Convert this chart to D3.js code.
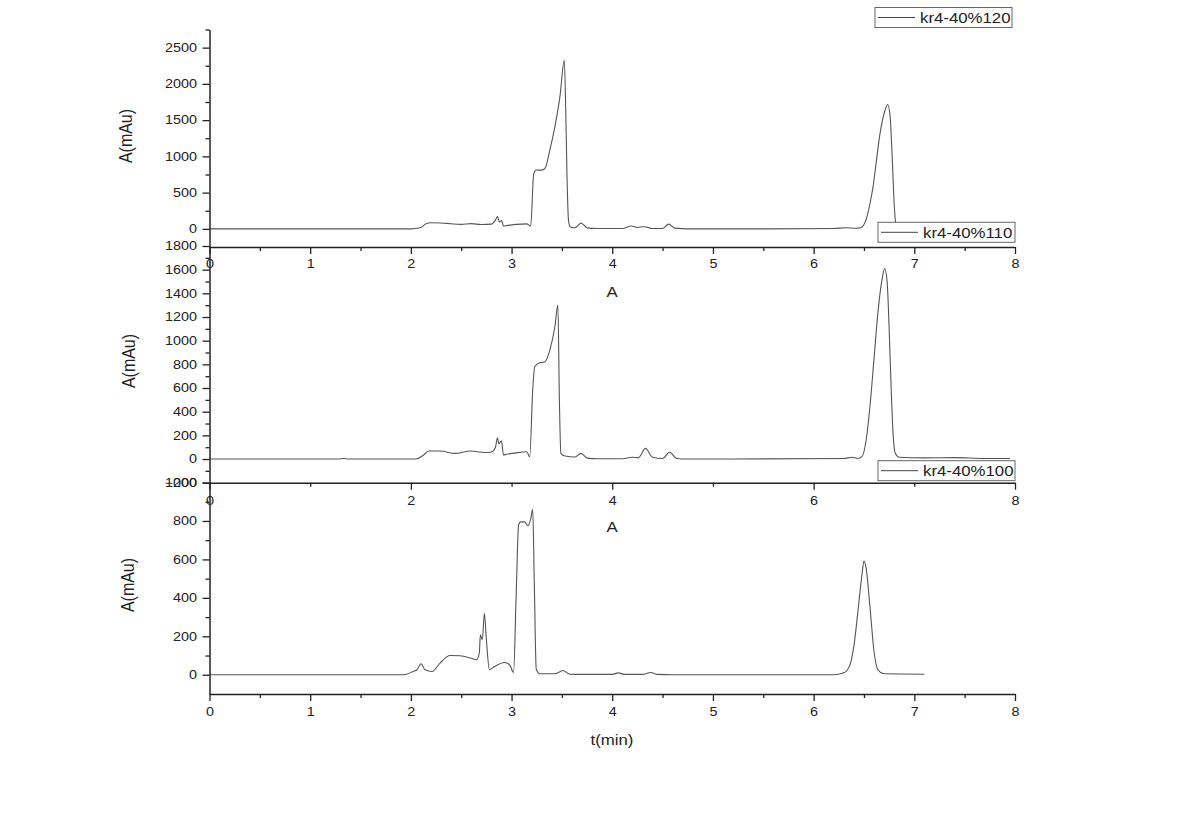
<!DOCTYPE html>
<html lang="en">
<head>
    <meta charset="UTF-8">
    <title>kr4-40% chromatograms</title>
    <script type="text/javascript" src="https://d3js.org/d3.v7.min.js"></script>
    <style>
        body { margin: 0; background: #fff; }
        svg { display: block; }
        text { font-family: "Liberation Sans", Arial, sans-serif; fill: #222; }
    </style>
</head>
<body>
    <script type="text/javascript">
        // series names (legend labels), top to bottom
        var names = ["kr4-40%120", "kr4-40%110", "kr4-40%100"];

        // retention time (min) and absorbance (mAu)
        var t120 = [0, 1.0, 2.0, 2.1, 2.15, 2.2, 2.3, 2.4, 2.5, 2.6, 2.7, 2.8, 2.84, 2.86, 2.88, 2.9, 2.92, 2.95, 3.05, 3.15,
            3.19, 3.22, 3.25, 3.29, 3.33, 3.38, 3.43, 3.48, 3.524, 3.54, 3.55, 3.565, 3.58, 3.63, 3.69, 3.75, 3.85, 4.1, 4.19,
            4.25, 4.32, 4.4, 4.5, 4.56, 4.62, 4.75, 5.5, 6.2, 6.32, 6.42, 6.47, 6.5, 6.53, 6.56, 6.59, 6.62, 6.66, 6.71, 6.735,
            6.76, 6.78, 6.8, 6.815, 6.84, 7.0, 7.9];
        var a120 = [0, 0, 0, 20, 70, 85, 82, 70, 62, 72, 60, 65, 120, 170, 95, 115, 40, 45, 62, 69,
            40, 760, 812, 810, 830, 1087, 1408, 1820, 2326, 1500, 770, 124, 30, 15, 80, 14, 5, 5, 40,
            20, 30, 5, 5, 65, 10, 0, 0, 5, 15, 8, 15, 60, 170, 350, 580, 900, 1320, 1640, 1716,
            1550, 1000, 350, 80, 15, 5, 5];

        var t110 = [0, 1.28, 1.33, 1.38, 2.05, 2.12, 2.18, 2.29, 2.44, 2.59, 2.73, 2.8, 2.84, 2.86, 2.875, 2.9, 2.92, 2.95,
            3.03, 3.15, 3.18, 3.21, 3.23, 3.28, 3.33, 3.38, 3.43, 3.46, 3.475, 3.49, 3.53, 3.63, 3.69, 3.75, 3.85, 4.1, 4.2,
            4.26, 4.33, 4.4, 4.5, 4.57, 4.64, 4.75, 6.3, 6.38, 6.44, 6.48, 6.52, 6.56, 6.6, 6.64, 6.68, 6.705, 6.73, 6.75,
            6.77, 6.79, 6.81, 6.85, 7.1, 7.4, 7.7, 7.95];
        var a110 = [0, 0, 5, 0, 0, 30, 68, 68, 48, 68, 55, 60, 100, 180, 127, 155, 34, 40,
            50, 62, 20, 583, 780, 814, 820, 921, 1118, 1301, 500, 48, 25, 17, 48, 8, 3, 3, 15,
            10, 90, 15, 5, 57, 5, 0, 5, 15, 5, 20, 150, 450, 850, 1250, 1520, 1610, 1500, 1100,
            600, 200, 50, 15, 10, 12, 5, 5];

        var t100 = [0, 1.9, 1.96, 2.02, 2.06, 2.1, 2.14, 2.21, 2.29, 2.39, 2.49, 2.59, 2.65, 2.68, 2.69, 2.71, 2.73, 2.75,
            2.78, 2.83, 2.93, 2.98, 3.02, 3.045, 3.07, 3.09, 3.13, 3.16, 3.19, 3.21, 3.225, 3.245, 3.28, 3.43, 3.51, 3.58,
            3.7, 4.0, 4.06, 4.12, 4.3, 4.38, 4.45, 4.6, 6.2, 6.3, 6.36, 6.4, 6.44, 6.48, 6.5, 6.52, 6.56, 6.6, 6.64, 6.7, 7.1];
        var a100 = [0, 0, 3, 17, 25, 57, 26, 17, 61, 100, 99, 87, 78, 114, 208, 182, 320, 182,
            26, 43, 64, 52, 12, 400, 780, 795, 795, 775, 810, 861, 500, 30, 5, 5, 22, 3,
            2, 2, 10, 2, 2, 12, 2, 0, 0, 10, 50, 150, 330, 520, 592, 560, 350, 120, 25, 5, 3];

        // axis ticks
        var xMajor1 = [0, 1, 2, 3, 4, 5, 6, 7, 8];
        var xMinor1 = [0.5, 1.5, 2.5, 3.5, 4.5, 5.5, 6.5, 7.5];
        var xMajor2 = [0, 2, 4, 6, 8];
        var xMinor2 = [1, 3, 5, 7];
        var yMajor120 = [0, 500, 1000, 1500, 2000, 2500];
        var yMinor120 = [250, 750, 1250, 1750, 2250, 2750];
        var yMajor110 = [-200, 0, 200, 400, 600, 800, 1000, 1200, 1400, 1600, 1800];
        var yMinor110 = [-100, 100, 300, 500, 700, 900, 1100, 1300, 1500, 1700];
        var yMajor100 = [0, 200, 400, 600, 800, 1000];
        var yMinor100 = [100, 300, 500, 700, 900];

        var w = 1180, h = 834;
        var sx = 1.2; // picture is stretched horizontally
        var fmt = d3.format("d");

        var svg = d3.select("body").append("svg")
            .attr("width", w)
            .attr("height", h);

        var x = d3.scaleLinear().domain([0, 8]).range([209.5, 1015]);

        var panels = [
            { t: t120, a: a120, name: names[0], dom: [-250, 2750], rng: [247, 29.5],
              yMaj: yMajor120, yMin: yMinor120, xMaj: xMajor1, xMin: xMinor1, lab: 12, xTitle: "A", xTitleY: 292,
              yTitleX: 125, yTitleY: 136, leg: [875, 7.5] },
            { t: t110, a: a110, name: names[1], dom: [-200, 1800], rng: [482.7, 246],
              yMaj: yMajor110, yMin: yMinor110, xMaj: xMajor2, xMin: xMinor2, lab: 14, xTitle: "A", xTitleY: 527,
              yTitleX: 128, yTitleY: 361, leg: [878, 222.3] },
            { t: t100, a: a100, name: names[2], dom: [-100, 1000], rng: [694, 482.5],
              yMaj: yMajor100, yMin: yMinor100, xMaj: xMajor1, xMin: xMinor1, lab: 13, xTitle: "t(min)", xTitleY: 740,
              yTitleX: 127, yTitleY: 585, leg: [878, 460.7] }
        ];

        panels.forEach(function(p) {
            p.y = d3.scaleLinear().domain(p.dom).range(p.rng);
        });

        // traces first, so axes and legends sit on top
        panels.forEach(function(p) {
            var pts = p.t.map(function(d, i) { return [d, p.a[i]]; });
            var line = d3.line()
                .x(function(d) { return x(d[0]); })
                .y(function(d) { return p.y(d[1]); })
                .curve(d3.curveMonotoneX);
            svg.append("path")
                .datum(pts)
                .attr("d", line)
                .attr("fill", "none")
                .attr("stroke", "#555")
                .attr("stroke-width", 1.1);
        });

        function styleAxis(g) {
            g.select(".domain").attr("stroke", "#222").attr("stroke-width", 1.5);
            g.selectAll(".tick line").attr("stroke", "#222").attr("stroke-width", 1.3);
            g.selectAll("text").attr("font-size", 12).attr("fill", "#222")
                .attr("font-family", "Liberation Sans, Arial, sans-serif");
        }

        panels.forEach(function(p) {
            var y0 = p.rng[0];

            // y axis
            var gy = svg.append("g").attr("transform", "translate(" + x(0) + ",0)");
            gy.call(d3.axisLeft(p.y).tickValues(p.yMin).tickSize(4).tickSizeOuter(0).tickFormat(""));
            styleAxis(gy);
            var gy2 = svg.append("g").attr("transform", "translate(" + x(0) + ",0)");
            gy2.call(d3.axisLeft(p.y).tickValues(p.yMaj).tickSize(7).tickSizeOuter(0).tickPadding(5).tickFormat(fmt));
            styleAxis(gy2);
            gy2.select(".domain").remove();
            gy2.selectAll("text")
                .attr("x", -12.5 / sx)
                .attr("transform", "scale(" + sx + ",1)");

            // x axis
            var gx = svg.append("g").attr("transform", "translate(0," + y0 + ")");
            gx.call(d3.axisBottom(x).tickValues(p.xMin).tickSize(4).tickSizeOuter(0).tickFormat(""));
            styleAxis(gx);
            var gx2 = svg.append("g").attr("transform", "translate(0," + y0 + ")");
            gx2.call(d3.axisBottom(x).tickValues(p.xMaj).tickSize(7).tickSizeOuter(0).tickFormat(fmt));
            styleAxis(gx2);
            gx2.select(".domain").remove();
            gx2.selectAll(".tick text")
                .attr("y", p.lab)
                .attr("x", 0)
                .attr("transform", "scale(" + sx + ",1)");

            // titles
            svg.append("text")
                .attr("transform", "translate(" + 612 + "," + p.xTitleY + ") scale(" + sx + ",1)")
                .attr("text-anchor", "middle")
                .attr("dominant-baseline", "central")
                .attr("font-size", 14)
                .text(p.xTitle);

            svg.append("text")
                .attr("transform", "translate(" + p.yTitleX + "," + p.yTitleY + ") scale(" + sx + ",1) rotate(-90)")
                .attr("text-anchor", "middle")
                .attr("dominant-baseline", "central")
                .attr("font-size", 16)
                .text("A(mAu)");
        });

        // legends
        panels.forEach(function(p) {
            var lx = p.leg[0], ly = p.leg[1];
            var lg = svg.append("g").attr("transform", "translate(" + lx + "," + ly + ")");
            lg.append("rect")
                .attr("x", 0).attr("y", 0)
                .attr("width", 137).attr("height", 20)
                .attr("fill", "#fff")
                .attr("stroke", "#666")
                .attr("stroke-width", 1);
            lg.append("line")
                .attr("x1", 3).attr("x2", 40)
                .attr("y1", 10).attr("y2", 10)
                .attr("stroke", "#444")
                .attr("stroke-width", 1);
            lg.append("text")
                .attr("transform", "translate(45,15.5) scale(" + sx + ",1)")
                .attr("font-size", 14)
                .text(p.name);
        });
    </script>
</body>
</html>
